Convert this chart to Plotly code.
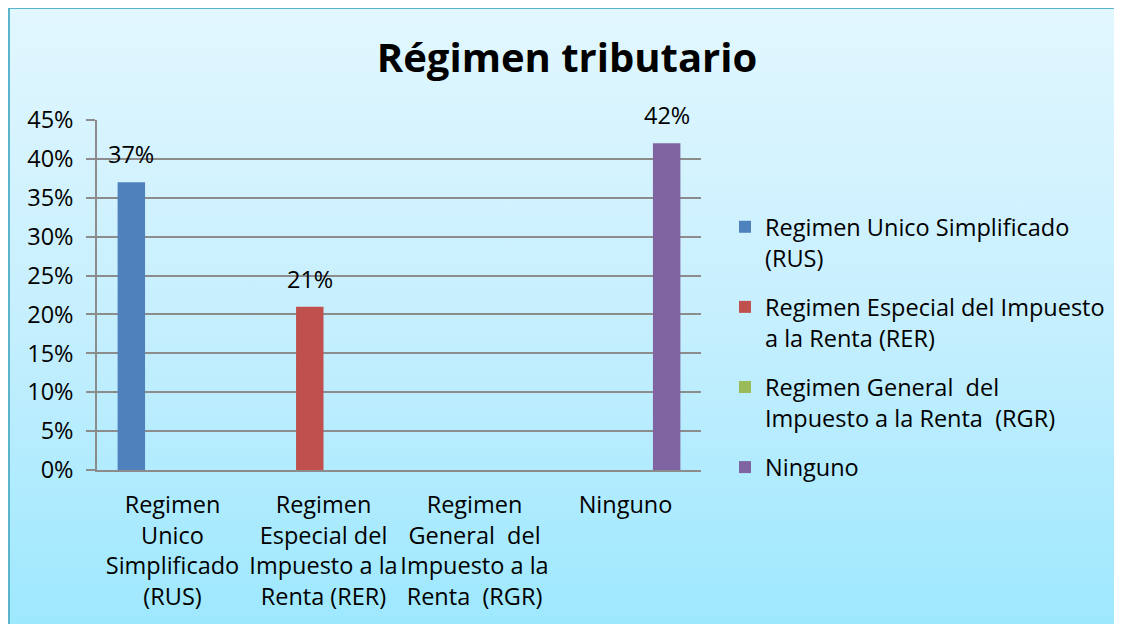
import base64
import plotly.graph_objects as go

# ---- data ----
categories = [
    "Regimen<br>Unico<br>Simplificado<br>(RUS)",
    "Regimen<br>Especial del<br>Impuesto a la<br>Renta (RER)",
    "Regimen<br>General  del<br>Impuesto a la<br>Renta  (RGR)",
    "Ninguno",
]
series_names = [
    "Regimen Unico Simplificado<br>(RUS)",
    "Regimen Especial del Impuesto<br>a la Renta (RER)",
    "Regimen General  del<br>Impuesto a la Renta  (RGR)",
    "Ninguno",
]
rus_values = [0.37, None, None, None]
rer_values = [None, 0.21, None, None]
rgr_values = [None, None, None, None]
ninguno_values = [None, None, None, 0.42]
series_values = [rus_values, rer_values, rgr_values, ninguno_values]
colors = ["#4F81BD", "#C0504D", "#9BBB59", "#8064A2"]
title_text = "Régimen tributario"

FONT = "Open Sans, Carlito, Calibri, sans-serif"
FS = 23.5

OFF = 8  # page offset of the figure (body margin)
W, H = 1122 - 2 * OFF, 632 - 2 * OFF
L, R, T, B = 97 - OFF, W - (701 - OFF), 120 - OFF, H - (470 - OFF)
PW, PH = W - L - R, H - T - B

def px_x(p):  # page pixel -> paper x
    return (p - OFF - L) / PW

def px_y(p):  # page pixel -> paper y
    return (H - B - (p - OFF)) / PH

fig = go.Figure()
for i, (name, vals, col) in enumerate(zip(series_names, series_values, colors)):
    fig.add_trace(go.Bar(
        x=categories, y=vals, name=name, marker_color=col,
        marker_line_width=0, hoverinfo="skip", legendgroup=f"g{i}",
    ))

# data labels, placed over each bar slot
bargap = 0.273
nser = len(series_values)
bar_w = PW / len(categories) * (1 - bargap) / nser
annotations = []
for si, vals in enumerate(series_values):
    for ci, v in enumerate(vals):
        if v is None:
            continue
        annotations.append(dict(
            x=categories[ci], y=v, xref="x", yref="y",
            text=f"{round(v * 100)}%", showarrow=False,
            xshift=(si - (nser - 1) / 2) * bar_w, yanchor="bottom", yshift=10,
            font=dict(family=FONT, size=FS, color="#000000"),
        ))

svg = (
    '<svg xmlns="http://www.w3.org/2000/svg" width="100" height="100" preserveAspectRatio="none">'
    '<defs><linearGradient id="g" x1="0" y1="0" x2="0" y2="1">'
    '<stop offset="0" stop-color="#E2F7FE"/>'
    '<stop offset="0.5" stop-color="#C6EFFE"/>'
    '<stop offset="1" stop-color="#9EE8FE"/>'
    '</linearGradient></defs>'
    '<rect x="0" y="0" width="100" height="100" fill="url(#g)"/></svg>'
)
src = "data:image/svg+xml;base64," + base64.b64encode(svg.encode()).decode()

fig.update_layout(
    width=W, height=H,
    margin=dict(l=L, r=R, t=T, b=B, autoexpand=False),
    paper_bgcolor="#FFFFFF",
    plot_bgcolor="#FFFFFF",
    barmode="group", bargap=bargap, bargroupgap=0,
    font=dict(family=FONT, size=FS, color="#000000"),
    title=dict(text=f"<b>{title_text}</b>", x=px_x(567), xref="paper", xanchor="center",
               y=1 - (58 - OFF) / H, yanchor="middle",
               font=dict(family=FONT, size=40, color="#000000")),
    showlegend=True,
    legend=dict(x=px_x(725), y=px_y(205), xanchor="left", yanchor="top",
                bgcolor="rgba(0,0,0,0)", font=dict(family=FONT, size=FS),
                tracegroupgap=16, itemwidth=30, traceorder="grouped", valign="top"),
    annotations=annotations,
    images=[dict(source=src, xref="paper", yref="paper",
                 x=px_x(OFF), y=px_y(OFF), sizex=W / PW, sizey=H / PH,
                 xanchor="left", yanchor="top", sizing="stretch", layer="below")],
    shapes=[
        dict(type="line", xref="paper", yref="paper",
             x0=px_x(OFF + 1), x1=px_x(OFF + W), y0=px_y(OFF), y1=px_y(OFF),
             line=dict(color="#5AB4CC", width=2), layer="below"),
        dict(type="line", xref="paper", yref="paper",
             x0=px_x(OFF + 1), x1=px_x(OFF + 1), y0=px_y(OFF), y1=px_y(OFF + H),
             line=dict(color="#5AB4CC", width=2), layer="below"),
    ],
)

fig.update_yaxes(
    range=[0, 0.45], dtick=0.05, tickformat=".0%",
    showgrid=True, gridcolor="#8C8C8C", gridwidth=1.5,
    showline=True, linecolor="#8C8C8C", linewidth=1.5,
    ticks="outside", ticklen=9, tickcolor="#8C8C8C", tickwidth=1.5,
    ticklabelstandoff=8, zeroline=False,
    tickfont=dict(family=FONT, size=FS),
)
fig.update_xaxes(
    showline=True, linecolor="#8C8C8C", linewidth=1.5,
    showgrid=False, ticks="", ticklabelstandoff=13,
    tickfont=dict(family=FONT, size=FS), tickangle=0,
)

fig.write_html("out.html")
